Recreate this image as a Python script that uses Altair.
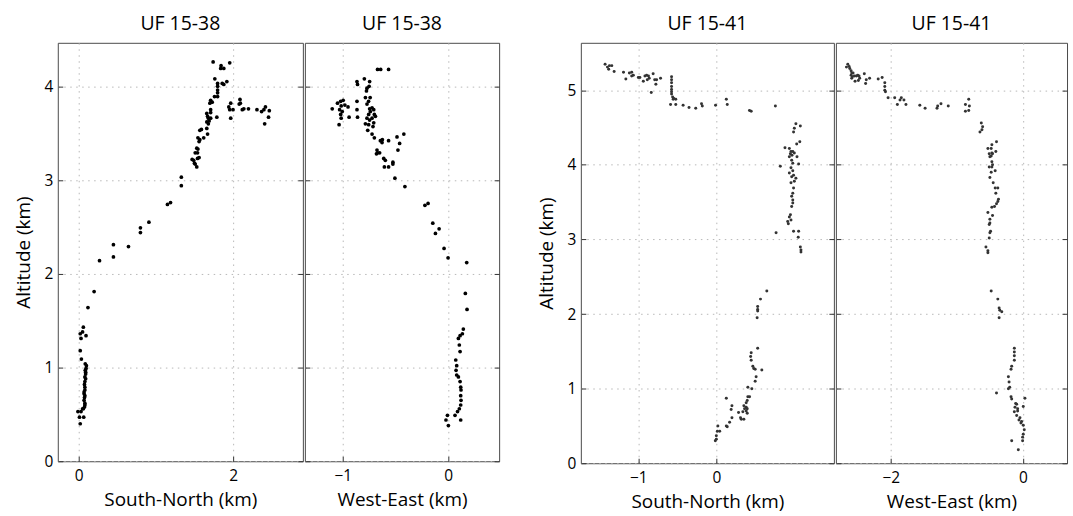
import altair as alt
import pandas as pd

FONT = "Open Sans"

# ---------------- data (km) ----------------
# UF 15-38, South-North vs altitude
uf1538_sn = [
    (0.02, 0.40), (0.065, 0.47), (0.01, 0.47), (-0.01, 0.53), (0.03, 0.53), (0.06, 0.56),
    (0.08, 0.60), (0.07, 0.65), (0.08, 0.70), (0.07, 0.74), (0.08, 0.79), (0.08, 0.85),
    (0.08, 0.90), (0.09, 0.95), (0.095, 0.99), (0.10, 1.02), (0.085, 1.04), (0.035, 1.09),
    (0.02, 1.18), (0.03, 1.31), (0.02, 1.36), (0.06, 1.43), (0.095, 1.34), (0.05, 1.38),
    (0.08, 0.62), (0.075, 0.68), (0.07, 0.72), (0.08, 0.76), (0.075, 0.82), (0.09, 0.88),
    (0.09, 0.93), (0.085, 0.97), (0.05, 0.56), (0.075, 0.58),
    (0.12, 1.64), (0.20, 1.81), (0.27, 2.14), (0.45, 2.18), (0.45, 2.31), (0.645, 2.29),
    (0.80, 2.44), (0.80, 2.49), (0.91, 2.55), (1.15, 2.74), (1.19, 2.76), (1.33, 2.94), (1.33, 3.03),
    (1.742, 4.26), (1.845, 4.22), (1.84, 4.19), (1.88, 4.19), (1.957, 4.25), (1.764, 4.08),
    (1.80, 4.03), (1.86, 4.03), (1.88, 4.02), (1.92, 4.05), (1.80, 4.00), (1.80, 3.96),
    (1.80, 3.93), (1.76, 3.89), (1.80, 3.89), (1.71, 3.85), (1.73, 3.83), (1.70, 3.82),
    (1.97, 3.82), (2.09, 3.86), (2.095, 3.82), (1.945, 3.78), (2.0, 3.75), (1.957, 3.75),
    (2.12, 3.75), (2.20, 3.76), (2.31, 3.75), (2.37, 3.73), (1.97, 3.66), (1.71, 3.75),
    (1.71, 3.72), (1.79, 3.67), (1.66, 3.71), (1.67, 3.68), (1.68, 3.66), (1.69, 3.63),
    (1.66, 3.62), (1.68, 3.60), (1.71, 3.66), (1.57, 3.53), (1.59, 3.54), (1.66, 3.55),
    (1.545, 3.45), (1.57, 3.43), (1.56, 3.41), (1.62, 3.45), (1.67, 3.49), (1.53, 3.34),
    (1.545, 3.33), (1.51, 3.29), (1.54, 3.29), (1.47, 3.22), (1.49, 3.21), (1.54, 3.23),
    (1.56, 3.24), (1.50, 3.18), (1.51, 3.17), (1.53, 3.14), (2.42, 3.78), (2.40, 3.75),
    (2.47, 3.74), (2.46, 3.67), (2.41, 3.60), (2.08, 3.81), (2.14, 3.76),
]

# UF 15-38, West-East vs altitude
uf1538_we = [
    (0.003, 0.38), (-0.02, 0.44), (-0.006, 0.49), (0.12, 0.44), (0.066, 0.49), (0.09, 0.53),
    (0.107, 0.56), (0.12, 0.60), (0.123, 0.65), (0.12, 0.70), (0.123, 0.76), (0.12, 0.79),
    (0.114, 0.85), (0.098, 0.90), (0.082, 0.92), (0.076, 0.97), (0.082, 1.02), (0.073, 1.08),
    (0.114, 1.17), (0.107, 1.24), (0.098, 1.31), (0.114, 1.34), (0.136, 1.36), (0.145, 1.41),
    (0.18, 1.62), (0.164, 1.79), (0.177, 2.12), (0.0, 2.17), (-0.038, 2.27), (-0.12, 2.43),
    (-0.085, 2.48), (-0.145, 2.54), (-0.19, 2.75), (-0.22, 2.73), (-0.41, 2.93), (-0.505, 3.02),
    (-0.67, 4.18), (-0.64, 4.18), (-0.565, 4.18), (-0.795, 4.08), (-0.865, 4.05), (-0.86, 4.02),
    (-0.745, 4.05), (-0.75, 4.00), (-0.77, 3.98), (-0.775, 3.95), (-0.785, 3.88), (-0.74, 3.88),
    (-0.755, 3.84), (-0.77, 3.81),
    (-1.05, 3.82), (-1.02, 3.84), (-0.996, 3.85), (-0.98, 3.80), (-1.015, 3.79), (-1.03, 3.75),
    (-1.005, 3.73), (-1.02, 3.70), (-1.015, 3.66), (-1.10, 3.76), (-1.035, 3.59), (-0.94, 3.67),
    (-0.95, 3.78), (-0.865, 3.84), (-0.865, 3.75), (-0.86, 3.67),
    (-0.745, 3.76), (-0.722, 3.77), (-0.706, 3.75), (-0.738, 3.73), (-0.754, 3.70), (-0.70, 3.70),
    (-0.69, 3.68), (-0.722, 3.66), (-0.77, 3.66), (-0.745, 3.64), (-0.706, 3.61), (-0.785, 3.60),
    (-0.754, 3.59), (-0.713, 3.57), (-0.763, 3.53), (-0.722, 3.49), (-0.70, 3.45), (-0.643, 3.42),
    (-0.624, 3.43), (-0.627, 3.40), (-0.565, 3.42), (-0.675, 3.32), (-0.67, 3.29), (-0.68, 3.28),
    (-0.65, 3.29), (-0.611, 3.23), (-0.596, 3.21), (-0.524, 3.19), (-0.524, 3.17), (-0.605, 3.14),
    (-0.565, 3.14), (-0.485, 3.46), (-0.42, 3.49), (-0.46, 3.39), (-0.476, 3.32),
]

# UF 15-41, South-North vs altitude
uf1541_sn = [
    (-1.426, 5.35), (-1.396, 5.31), (-1.37, 5.33), (-1.34, 5.33), (-1.38, 5.28), (-1.31, 5.25),
    (-1.19, 5.24), (-1.16, 5.15), (-1.115, 5.23), (-1.085, 5.24), (-1.064, 5.20), (-1.085, 5.19),
    (-1.0, 5.17), (-0.98, 5.17), (-0.936, 5.12), (-0.915, 5.19), (-0.894, 5.20), (-0.87, 5.19),
    (-0.86, 5.16), (-0.885, 5.14), (-0.81, 5.22), (-0.79, 5.14), (-0.766, 5.14), (-0.775, 5.08),
    (-0.715, 5.16), (-0.834, 4.97),
    (-0.574, 5.18), (-0.574, 5.14), (-0.574, 5.10), (-0.574, 5.05), (-0.574, 5.01), (-0.574, 4.98),
    (-0.574, 4.95), (-0.56, 4.91), (-0.553, 4.88), (-0.545, 4.89), (-0.52, 4.88), (-0.587, 4.81),
    (-0.52, 4.81), (-0.426, 4.80), (-0.35, 4.77), (-0.264, 4.76), (-0.19, 4.82), (-0.18, 4.79),
    (-0.01, 4.80), (0.128, 4.88), (0.14, 4.81), (0.425, 4.73), (0.447, 4.72), (0.757, 4.79),
    (1.02, 4.55), (1.077, 4.52), (1.0, 4.49), (0.99, 4.44), (1.03, 4.28), (1.07, 4.31),
    (0.88, 4.23), (0.936, 4.22), (0.957, 4.18), (0.98, 4.18), (0.949, 4.15), (1.0, 4.16),
    (1.034, 4.11), (0.97, 4.13), (0.936, 4.11), (0.966, 4.06), (1.055, 4.01), (0.98, 4.02),
    (0.82, 3.98), (0.957, 3.96), (0.98, 3.92), (0.936, 3.89), (0.99, 3.86), (0.966, 3.84),
    (1.02, 3.82), (1.0, 3.78), (0.957, 3.76), (0.99, 3.69), (0.98, 3.62), (0.966, 3.58),
    (0.98, 3.53), (0.98, 3.49), (0.966, 3.44), (0.95, 3.33), (0.936, 3.30), (0.957, 3.26),
    (0.915, 3.24), (0.923, 3.21), (0.766, 3.09), (0.99, 3.11), (1.055, 3.11), (1.05, 3.03),
    (1.077, 2.90), (1.085, 2.86), (1.085, 2.83),
    (0.647, 2.31), (0.566, 2.20), (0.53, 2.10), (0.53, 2.06), (0.53, 2.04), (0.523, 1.95),
    (0.53, 1.54), (0.447, 1.48), (0.44, 1.43), (0.447, 1.38), (0.468, 1.30), (0.48, 1.27),
    (0.498, 1.26), (0.583, 1.25), (0.51, 1.16), (0.498, 1.10), (0.404, 1.02), (0.455, 1.0),
    (0.128, 0.87), (0.404, 0.89), (0.426, 0.89), (0.396, 0.84), (0.383, 0.81), (0.383, 0.75),
    (0.396, 0.73), (0.383, 0.70), (0.396, 0.67), (0.353, 0.77), (0.362, 0.73), (0.34, 0.69),
    (0.2, 0.77), (0.19, 0.72), (0.285, 0.68), (0.31, 0.61), (0.353, 0.59), (0.32, 0.59),
    (0.2, 0.61), (0.17, 0.55), (0.128, 0.50), (0.14, 0.49), (0.02, 0.50), (0.043, 0.43),
    (0.013, 0.43), (0.0, 0.37), (0.0, 0.32), (-0.013, 0.30),
]

# UF 15-41, West-East vs altitude
uf1541_we = [
    (-2.65, 5.35), (-2.67, 5.31), (-2.63, 5.32), (-2.62, 5.29), (-2.60, 5.26), (-2.59, 5.23),
    (-2.57, 5.23), (-2.60, 5.20), (-2.58, 5.18), (-2.55, 5.19), (-2.59, 5.16), (-2.54, 5.12),
    (-2.52, 5.19), (-2.50, 5.20), (-2.48, 5.19), (-2.47, 5.16), (-2.49, 5.13), (-2.40, 5.22),
    (-2.37, 5.14), (-2.32, 5.16), (-2.38, 5.09), (-2.19, 5.15), (-2.13, 5.17), (-2.09, 5.10),
    (-2.09, 5.05), (-2.09, 5.00), (-2.08, 4.98), (-2.04, 4.90), (-1.94, 4.90), (-1.90, 4.81),
    (-1.86, 4.87), (-1.84, 4.90), (-1.80, 4.87), (-1.77, 4.81), (-1.56, 4.80), (-1.48, 4.76),
    (-1.30, 4.76), (-1.29, 4.79), (-1.24, 4.82), (-1.13, 4.79), (-0.82, 4.88), (-0.87, 4.81),
    (-0.81, 4.79), (-0.87, 4.72), (-0.82, 4.73), (-0.63, 4.56), (-0.61, 4.51), (-0.65, 4.44),
    (-0.62, 4.47),
    (-0.40, 4.31), (-0.47, 4.27), (-0.53, 4.22), (-0.48, 4.22), (-0.51, 4.15), (-0.47, 4.16),
    (-0.48, 4.12), (-0.46, 4.15), (-0.50, 4.11), (-0.41, 4.18), (-0.47, 4.04), (-0.46, 4.00),
    (-0.51, 3.97), (-0.47, 3.97), (-0.42, 3.92), (-0.48, 3.90), (-0.50, 3.83), (-0.45, 3.76),
    (-0.42, 3.69), (-0.38, 3.69), (-0.41, 3.62), (-0.37, 3.54), (-0.38, 3.51), (-0.40, 3.48),
    (-0.43, 3.44), (-0.47, 3.43), (-0.53, 3.36), (-0.46, 3.32), (-0.50, 3.27), (-0.50, 3.22),
    (-0.51, 3.20), (-0.49, 3.11), (-0.50, 3.09), (-0.51, 3.02), (-0.56, 2.90), (-0.53, 2.85),
    (-0.53, 2.82), (-0.48, 2.31), (-0.38, 2.20), (-0.36, 2.08), (-0.35, 2.05), (-0.32, 2.03),
    (-0.36, 1.95),
    (-0.13, 1.54), (-0.13, 1.49), (-0.13, 1.44), (-0.13, 1.38), (-0.17, 1.30), (-0.18, 1.26),
    (-0.22, 1.16), (-0.21, 1.09), (-0.20, 1.02), (-0.22, 1.00), (-0.40, 0.94), (-0.18, 0.89),
    (-0.17, 0.86), (0.03, 0.87), (0.005, 0.76), (-0.095, 0.79), (-0.12, 0.75), (-0.08, 0.70),
    (-0.13, 0.69), (-0.095, 0.64), (-0.045, 0.61), (-0.02, 0.56), (0.005, 0.51), (0.02, 0.45),
    (0.005, 0.39), (-0.005, 0.35), (-0.005, 0.30), (-0.17, 0.30), (-0.07, 0.18), (-0.11, 0.80),
    (-0.08, 0.73), (-0.06, 0.58), (-0.03, 0.54),
]

titles = ["UF 15-38", "UF 15-38", "UF 15-41", "UF 15-41"]
x_titles = ["South-North (km)", "West-East (km)", "South-North (km)", "West-East (km)"]
y_title = "Altitude (km)"
x_ticks = [[0, 2], [-1, 0], [-1, 0], [-2, 0]]
y_ticks_38 = [0, 1, 2, 3, 4]
y_ticks_41 = [0, 1, 2, 3, 4, 5]

GRID = dict(grid=True, gridDash=[1.5, 4.5], gridColor="#b8b8b8", gridWidth=1)
TICK = dict(tickSize=5, offset=-5, tickColor="#333", domain=False)
LBL = dict(labelFont=FONT, labelFontSize=15.5, labelColor="black",
           titleFont=FONT, titleFontSize=19, titleFontWeight="normal", titleColor="black")


def panel(points, title, xtitle, xdom, xvals, ydom, yvals, w, h, color, size, show_y):
    df = pd.DataFrame(points, columns=["x", "alt"])
    xscale = alt.Scale(domain=xdom, nice=False, zero=False)
    yscale = alt.Scale(domain=ydom, nice=False, zero=False)
    yaxis_kw = dict(values=yvals, labelPadding=5, titlePadding=11, **GRID, **TICK, **LBL)
    if show_y:
        yaxis_kw["title"] = y_title
    else:
        yaxis_kw["title"] = None
        yaxis_kw["labels"] = False
    pts = alt.Chart(df).mark_circle(size=size, color=color, opacity=1).encode(
        x=alt.X("x:Q", scale=xscale,
                axis=alt.Axis(values=xvals, title=xtitle, labelPadding=7, titlePadding=7,
                              **GRID, **TICK, **LBL)),
        y=alt.Y("alt:Q", scale=yscale, axis=alt.Axis(**yaxis_kw)),
    )
    ghost = alt.Chart(df).mark_circle(opacity=0).encode(
        y=alt.Y("alt:Q", scale=yscale,
                axis=alt.Axis(orient="right", values=yvals, labels=False, grid=False,
                              title=None, **TICK)),
    )
    return alt.layer(pts, ghost).resolve_scale(y="independent").properties(
        width=w, height=h,
        title=alt.TitleParams(title, fontSize=19.5, font=FONT, fontWeight="normal",
                              color="black", offset=8),
    )


p1 = panel(uf1538_sn, titles[0], x_titles[0], [-0.271, 2.905], x_ticks[0],
           [0, 4.464], y_ticks_38, 246, 420, "black", 14, True)
p2 = panel(uf1538_we, titles[1], x_titles[1], [-1.36, 0.485], x_ticks[1],
           [0, 4.464], y_ticks_38, 195, 420, "black", 14, False)
p3 = panel(uf1541_sn, titles[2], x_titles[2], [-1.737, 1.507], x_ticks[2],
           [0, 5.636], y_ticks_41, 254, 422, "#333333", 9, True)
p4 = panel(uf1541_we, titles[3], x_titles[3], [-2.83, 0.667], x_ticks[3],
           [0, 5.636], y_ticks_41, 232, 422, "#333333", 9, False)

g1 = alt.hconcat(p1, p2, spacing=0)
g2 = alt.hconcat(p3, p4, spacing=0)

chart = (
    alt.hconcat(g1, g2, spacing=36)
    .properties(padding={"left": 13, "top": 13, "right": 5, "bottom": 3})
    .configure(background="white")
    .configure_view(stroke="#4a4a4a", strokeWidth=1)
)

chart.save("out.html", embed_options={"renderer": "svg", "actions": False})
